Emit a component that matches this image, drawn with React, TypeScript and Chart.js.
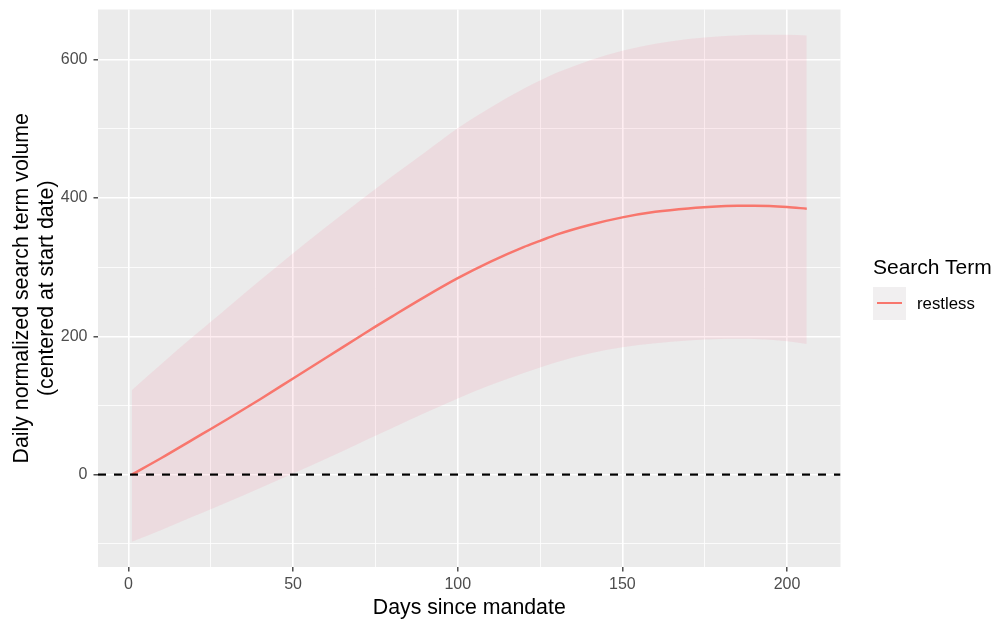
import React, { useEffect, useRef } from "react";
import { Chart, registerables } from "chart.js";

Chart.register(...registerables);

// ---- data ----
const days: number[] = [1, 10, 20, 25, 30, 40, 50, 60, 70, 75, 80, 90, 100, 110, 120, 125, 130, 140, 150, 160, 170, 180, 185, 190, 200, 206];
const fitValues: number[] = [0, 24, 52, 66, 80, 109, 139, 169, 199, 214, 228.5, 257, 284, 308, 329, 338, 347, 361, 372, 380, 385, 388, 388.7, 388.7, 387, 384.5];
const upperValues: number[] = [122, 160, 201, 221, 241, 281, 320, 358, 395, 413, 431, 466, 501, 531, 558, 570, 581, 599, 613, 623, 630, 634, 635.2, 636, 636, 635];
const lowerValues: number[] = [-97, -80, -60, -50, -40, -19.5, 1.5, 23, 45, 56, 67, 89, 110, 129.5, 147, 155, 162.5, 175, 184, 190, 194, 196, 196.3, 196, 193, 189];
const hlineY = 0;

const xTicks: number[] = [0, 25, 50, 75, 100, 125, 150, 175, 200];
const xTickLabels: string[] = ["0", "", "50", "", "100", "", "150", "", "200"];
const yTicks: number[] = [-100, 0, 100, 200, 300, 400, 500, 600];
const yTickLabels: string[] = ["", "0", "", "200", "", "400", "", "600"];

const seriesName = "restless";
const legendTitle = "Search Term";
const xTitle = "Days since mandate";
const yTitle = ["Daily normalized search term volume", "(centered at start date)"];

const X_MIN = -9.25;
const X_MAX = 216.25;
const Y_MIN = -133.65;
const Y_MAX = 672.65;

const LINE_COLOR = "#F8766D";
const RIBBON_COLOR = "rgba(243,110,140,0.12)";
const FONT = '"Liberation Sans", Arial, Helvetica, sans-serif';

const panelBg = {
  id: "panelBg",
  beforeDraw(chart: any) {
    const { ctx, chartArea } = chart;
    ctx.save();
    ctx.fillStyle = "#EBEBEB";
    ctx.fillRect(chartArea.left, chartArea.top, chartArea.right - chartArea.left, chartArea.bottom - chartArea.top);
    ctx.restore();
  },
};

export default function App() {
  const canvasRef = useRef<HTMLCanvasElement | null>(null);

  useEffect(() => {
    document.body.style.margin = "0";
    const canvas = canvasRef.current;
    if (!canvas) return;
    const pts = (ys: number[]) => days.map((d, i) => ({ x: d, y: ys[i] }));

    const chart = new Chart(canvas, {
      type: "line",
      data: {
        datasets: [
          {
            label: "hline",
            data: [
              { x: X_MIN, y: hlineY },
              { x: X_MAX, y: hlineY },
            ],
            borderColor: "#000000",
            borderWidth: 2.2,
            borderDash: [8, 8],
            pointRadius: 0,
            fill: false,
            order: 0,
          },
          {
            label: seriesName,
            data: pts(fitValues),
            borderColor: LINE_COLOR,
            borderWidth: 2.5,
            pointRadius: 0,
            cubicInterpolationMode: "monotone",
            fill: false,
            order: 1,
          },
          {
            label: "lower",
            data: pts(lowerValues),
            borderWidth: 0,
            borderColor: "rgba(0,0,0,0)",
            pointRadius: 0,
            cubicInterpolationMode: "monotone",
            fill: false,
            order: 3,
          },
          {
            label: "upper",
            data: pts(upperValues),
            borderWidth: 0,
            borderColor: "rgba(0,0,0,0)",
            backgroundColor: RIBBON_COLOR,
            pointRadius: 0,
            cubicInterpolationMode: "monotone",
            fill: "-1",
            order: 2,
          },
        ],
      },
      options: {
        animation: false,
        responsive: false,
        maintainAspectRatio: false,
        events: [],
        layout: { padding: { top: 9.5, right: 156.5, left: 0, bottom: 0 } },
        plugins: {
          legend: { display: false },
          tooltip: { enabled: false },
          title: { display: false },
        },
        scales: {
          x: {
            type: "linear",
            min: X_MIN,
            max: X_MAX,
            afterBuildTicks: (scale: any) => {
              scale.ticks = xTicks.map((v) => ({ value: v }));
            },
            afterFit: (scale: any) => {
              scale.height = 54;
              scale.paddingLeft = 0;
              scale.paddingRight = 0;
              scale.paddingTop = 0;
              scale.paddingBottom = 0;
            },
            ticks: {
              autoSkip: false,
              maxRotation: 0,
              padding: 3,
              color: "#4D4D4D",
              font: { family: FONT, size: 16 },
              callback: (value: any) => {
                const i = xTicks.indexOf(Number(value));
                return i >= 0 ? xTickLabels[i] : "";
              },
            },
            grid: {
              color: "#FFFFFF",
              lineWidth: (ctx: any) => (ctx.tick && ctx.tick.value % 50 === 0 ? 1.6 : 0.8),
              tickColor: (ctx: any) => (ctx.tick && ctx.tick.value % 50 === 0 ? "#333333" : "rgba(0,0,0,0)"),
              tickLength: 4.5,
              tickWidth: 1.3,
              drawTicks: true,
            },
            border: { display: false },
            title: {
              display: true,
              text: xTitle,
              color: "#000000",
              font: { family: FONT, size: 21.3, lineHeight: 1.2 },
              padding: { top: 0, bottom: 0.3 },
            },
          },
          y: {
            type: "linear",
            min: Y_MIN,
            max: Y_MAX,
            afterBuildTicks: (scale: any) => {
              scale.ticks = yTicks.map((v) => ({ value: v }));
            },
            afterFit: (scale: any) => {
              scale.width = 98;
              scale.paddingLeft = 0;
              scale.paddingRight = 0;
              scale.paddingTop = 0;
              scale.paddingBottom = 0;
            },
            ticks: {
              autoSkip: false,
              padding: 6,
              color: "#4D4D4D",
              font: { family: FONT, size: 16 },
              callback: (value: any) => {
                const i = yTicks.indexOf(Number(value));
                return i >= 0 ? yTickLabels[i] : "";
              },
            },
            grid: {
              color: "#FFFFFF",
              lineWidth: (ctx: any) => (ctx.tick && ctx.tick.value % 200 === 0 ? 1.6 : 0.8),
              tickColor: (ctx: any) => (ctx.tick && ctx.tick.value % 200 === 0 ? "#333333" : "rgba(0,0,0,0)"),
              tickLength: 4.5,
              tickWidth: 1.3,
              drawTicks: true,
            },
            border: { display: false },
            title: {
              display: true,
              text: yTitle,
              color: "#000000",
              font: { family: FONT, size: 21.3, lineHeight: 1.15 },
              padding: { top: 10, bottom: 0 },
            },
          },
        },
      },
      plugins: [panelBg],
    } as any);

    return () => {
      chart.destroy();
    };
  }, []);

  return (
    <div style={{ position: "relative", width: 997, height: 621, background: "#FFFFFF", overflow: "hidden" }}>
      <canvas ref={canvasRef} width={997} height={621} style={{ display: "block", width: 997, height: 621 }} />
      <div
        style={{
          position: "absolute",
          left: 873,
          top: 254,
          fontFamily: FONT,
          fontSize: 21,
          lineHeight: "25px",
          color: "#000000",
          whiteSpace: "nowrap",
        }}
      >
        {legendTitle}
      </div>
      <div
        style={{
          position: "absolute",
          left: 872.7,
          top: 286.7,
          width: 33,
          height: 33,
          background: "#F1EFF0",
        }}
      >
        <div
          style={{
            position: "absolute",
            left: 4,
            top: 15.3,
            width: 25.3,
            height: 2.5,
            background: LINE_COLOR,
          }}
        />
      </div>
      <div
        style={{
          position: "absolute",
          left: 917,
          top: 294,
          fontFamily: FONT,
          fontSize: 16.8,
          lineHeight: "20px",
          color: "#000000",
          whiteSpace: "nowrap",
        }}
      >
        {seriesName}
      </div>
    </div>
  );
}
